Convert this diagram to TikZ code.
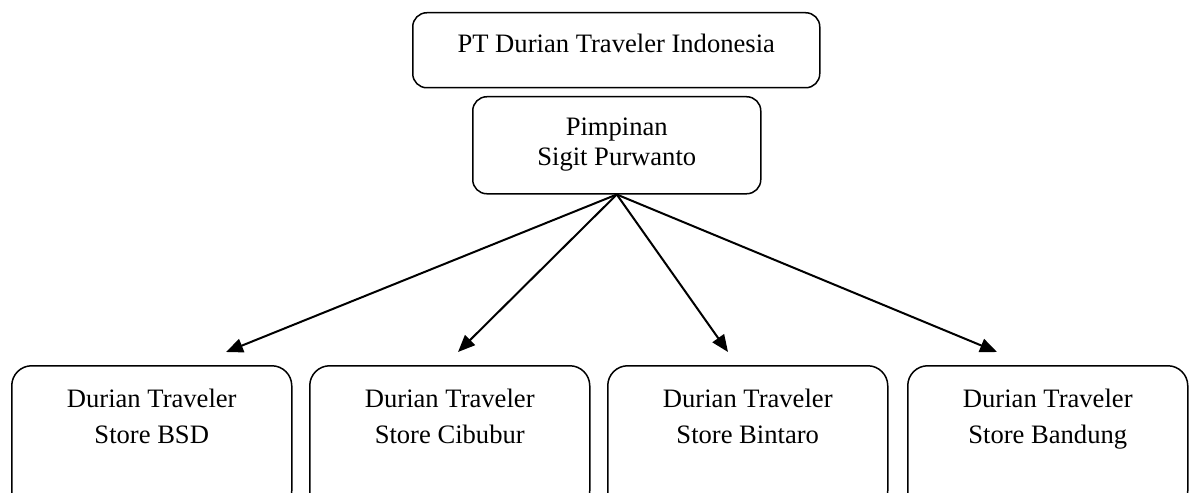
\documentclass[tikz,border=0pt]{standalone}
\usepackage{fontspec}
\setmainfont{Liberation Serif}
\usetikzlibrary{arrows.meta}

\begin{document}
\begin{tikzpicture}[x=0.5pt, y=-0.5pt,
    box/.style = {draw, rounded corners=#1, line width=0.75pt,
                inner sep=0pt, anchor=north west, align=center,
                font=\fontsize{13.3}{15}\selectfont},
    box/.default = 7pt,  % corner radius
    arr/.style = {line width=1pt, -{Triangle[length=8.5pt,width=7pt]}}
                    ]
    \useasboundingbox (0,0) rectangle (1192,492);
    \def\sw{140pt}  % width of a store box
    \def\sy{365}
    \node[box, minimum width=203.5pt, text height=20pt, text depth=17.5pt] at (412,12) (pt) {PT Durian Traveler Indonesia};
    \node[box, minimum width=144pt, text height=34.5pt, text depth=14pt] at (472,96) (boss) {Pimpinan\\Sigit Purwanto};
    \node[box=10pt, minimum width=\sw, text height=39pt, text depth=33.5pt] at (11,\sy) (bsd) {Durian Traveler\\[3pt]Store BSD};
    \node[box=10pt, minimum width=\sw, text height=39pt, text depth=33.5pt] at (309,\sy) (cbb) {Durian Traveler\\[3pt]Store Cibubur};
    \node[box=10pt, minimum width=\sw, text height=39pt, text depth=33.5pt] at (607,\sy) (btr) {Durian Traveler\\[3pt]Store Bintaro};
    \node[box=10pt, minimum width=\sw, text height=39pt, text depth=33.5pt] at (907,\sy) (bdg) {Durian Traveler\\[3pt]Store Bandung};
    \coordinate (tbsd) at (226,352);
    \coordinate (tcbb) at (458,352);
    \coordinate (tbtr) at (728,352);
    \coordinate (tbdg) at (997,352);
    \draw[arr] (boss.south) -- (tbsd);
    \draw[arr] (boss.south) -- (tcbb);
    \draw[arr] (boss.south) -- (tbtr);
    \draw[arr] (boss.south) -- (tbdg);
\end{tikzpicture}
\end{document}
